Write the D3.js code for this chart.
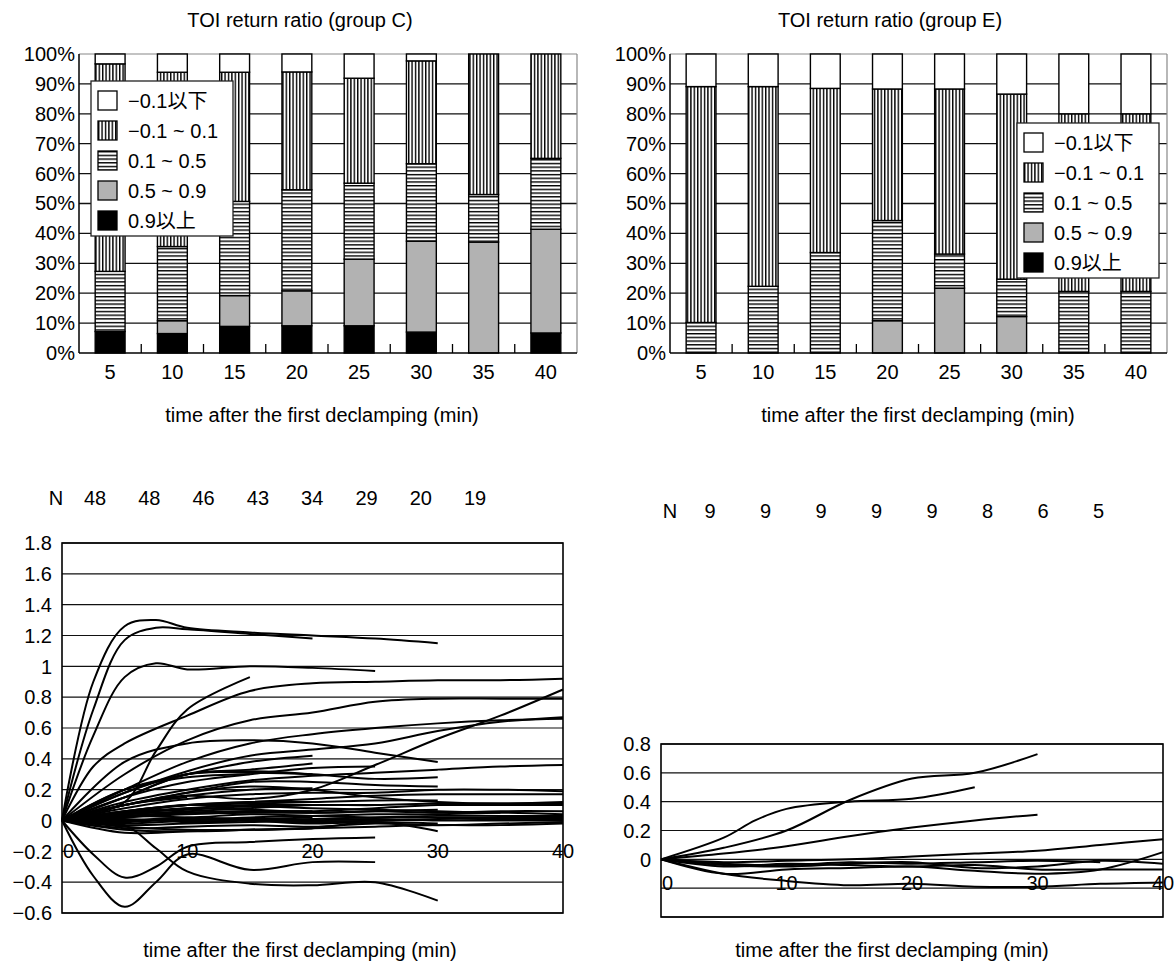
<!DOCTYPE html>
<html lang="en">
<head>
<meta charset="UTF-8" />
<title>TOI return ratio</title>
<style>
  body { margin: 0; background: #fff; }
  svg text { font-family: "Liberation Sans", Arial, "Noto Sans CJK JP", sans-serif; font-size: 20px; fill: #000; }
</style>
</head>
<body>
<script src="https://cdn.jsdelivr.net/npm/d3@7"></script>
<div id="app"></div>
<script>
// categories (min after declamping)
const times = ["5", "10", "15", "20", "25", "30", "35", "40"];
// stack keys, bottom to top
const keys = ["0.9以上", "0.5 ~ 0.9", "0.1 ~ 0.5", "\u22120.1 ~ 0.1", "\u22120.1以下"];
const legendKeys = ["\u22120.1以下", "\u22120.1 ~ 0.1", "0.1 ~ 0.5", "0.5 ~ 0.9", "0.9以上"];

// group C, percent of patients
const cBlack = [7.2, 6.5, 8.9, 9.1, 9.1, 7.0, 0, 6.7];
const cGray  = [0, 4.3, 10.3, 11.7, 22.3, 30.4, 37.1, 34.7];
const cHor   = [20.1, 24.8, 31.5, 33.8, 25.4, 25.9, 15.9, 23.7];
const cVer   = [69.4, 58.3, 43.2, 39.4, 35.1, 34.4, 47.0, 34.9];
const cWhite = [3.3, 6.1, 6.1, 6.0, 8.1, 2.3, 0, 0];

// group E, percent of patients
const eBlack = [0, 0, 0, 0, 0, 0, 0, 0];
const eGray  = [0, 0, 0, 10.8, 21.7, 12.2, 0, 0];
const eHor   = [10.2, 22.3, 33.6, 33.5, 11.4, 12.5, 20.6, 20.6];
const eVer   = [78.9, 66.8, 54.9, 44.0, 55.2, 61.9, 59.4, 59.4];
const eWhite = [10.9, 10.9, 11.5, 11.7, 11.7, 13.4, 20.0, 20.0];

// patient counts
const nC = [48, 48, 46, 43, 34, 29, 20, 19];
const nE = [9, 9, 9, 9, 9, 8, 6, 5];

const pctTicks = [0, 10, 20, 30, 40, 50, 60, 70, 80, 90, 100];
const xTicks = [0, 10, 20, 30, 40];
const yTicksC = [-0.6, -0.4, -0.2, 0, 0.2, 0.4, 0.6, 0.8, 1, 1.2, 1.4, 1.6, 1.8];
const yTicksE = [-0.4, -0.2, 0, 0.2, 0.4, 0.6, 0.8];
const yLabelsE = [0, 0.2, 0.4, 0.6, 0.8];

// individual return ratio curves, [min, value]
const linesC = [
  // followed to 40 min
  [[0,0],[2.5,0.35],[5,0.5],[10,0.68],[15,0.84],[20,0.89],[25,0.9],[30,0.91],[35,0.91],[40,0.92]],
  [[0,0],[5,0.3],[10,0.52],[15,0.65],[20,0.7],[25,0.77],[30,0.79],[35,0.79],[40,0.79]],
  [[0,0],[5,0.1],[10,0.16],[15,0.14],[20,0.2],[25,0.36],[30,0.53],[35,0.68],[40,0.85]],
  [[0,0],[5,0.18],[10,0.32],[15,0.42],[20,0.46],[25,0.5],[30,0.58],[35,0.64],[40,0.67]],
  [[0,0],[5,0.2],[10,0.38],[15,0.5],[20,0.56],[25,0.6],[30,0.63],[35,0.65],[40,0.66]],
  [[0,0],[5,0.12],[10,0.2],[15,0.26],[20,0.29],[25,0.31],[30,0.33],[35,0.35],[40,0.36]],
  [[0,0],[5,0.08],[10,0.14],[15,0.17],[20,0.18],[25,0.18],[30,0.2],[35,0.2],[40,0.19]],
  [[0,0],[5,0.06],[10,0.1],[15,0.12],[20,0.14],[25,0.16],[30,0.17],[35,0.17],[40,0.17]],
  [[0,0],[5,0.1],[10,0.18],[15,0.22],[20,0.2],[25,0.15],[30,0.12],[35,0.11],[40,0.12]],
  [[0,0],[5,0.04],[10,0.06],[15,0.08],[20,0.1],[25,0.1],[30,0.11],[35,0.11],[40,0.11]],
  [[0,0],[5,0.05],[10,0.08],[15,0.07],[20,0.06],[25,0.08],[30,0.1],[35,0.1],[40,0.1]],
  [[0,0],[5,0.02],[10,0.04],[15,0.05],[20,0.05],[25,0.06],[30,0.05],[35,0.06],[40,0.06]],
  [[0,0],[5,0.03],[10,0.02],[15,0.04],[20,0.03],[25,0.04],[30,0.04],[35,0.05],[40,0.04]],
  [[0,0],[5,-0.02],[10,0.0],[15,0.02],[20,0.03],[25,0.02],[30,0.03],[35,0.03],[40,0.03]],
  [[0,0],[5,0.01],[10,-0.01],[15,0.0],[20,0.01],[25,0.02],[30,0.02],[35,0.02],[40,0.02]],
  [[0,0],[5,-0.03],[10,-0.02],[15,-0.01],[20,0.0],[25,0.01],[30,0.0],[35,0.0],[40,0.0]],
  [[0,0],[5,-0.05],[10,-0.04],[15,-0.03],[20,-0.04],[25,-0.02],[30,-0.03],[35,-0.02],[40,-0.01]],
  [[0,0],[5,-0.06],[10,-0.07],[15,-0.06],[20,-0.05],[25,-0.04],[30,-0.03],[35,-0.03],[40,-0.02]],
  [[0,0],[5,0.0],[10,0.01],[15,0.0],[20,-0.01],[25,0.0],[30,0.01],[35,0.01],[40,0.01]],
  // to 35 min
  [[0,0],[5,0.05],[10,0.07],[15,0.09],[20,0.08],[25,0.07],[30,0.06],[35,0.05]],
  // to 30 min
  [[0,0],[2.5,0.9],[5,1.26],[7.5,1.3],[10,1.25],[15,1.22],[20,1.2],[25,1.18],[30,1.15]],
  [[0,0],[5,0.38],[10,0.5],[15,0.52],[20,0.5],[25,0.44],[30,0.38]],
  [[0,0],[5,0.1],[10,0.18],[15,0.25],[20,0.25],[25,0.23],[30,0.22]],
  [[0,0],[5,0.05],[10,0.1],[15,0.12],[20,0.12],[25,0.13],[30,0.13]],
  [[0,0],[5,0.03],[10,0.05],[15,0.06],[20,0.05],[25,0.06],[30,0.07]],
  [[0,0],[5,-0.01],[10,0.01],[15,0.0],[20,-0.02],[25,-0.01],[30,-0.02]],
  [[0,0],[5,-0.08],[10,-0.07],[15,-0.06],[20,-0.05],[25,-0.01],[30,-0.07]],
  [[0,0],[5,-0.03],[7.5,-0.18],[10,-0.33],[15,-0.41],[20,-0.42],[25,-0.4],[30,-0.52]],
  [[0,0],[5,0.15],[10,0.3],[15,0.31],[20,0.3],[25,0.27],[30,0.28]],
  // to 25 min
  [[0,0],[2.5,0.55],[5,0.93],[7.5,1.02],[10,0.98],[15,1.0],[20,0.99],[25,0.97]],
  [[0,0],[2.5,-0.36],[5,-0.56],[7.5,-0.4],[10,-0.22],[15,-0.32],[20,-0.27],[25,-0.27]],
  [[0,0],[2.5,-0.22],[5,-0.37],[7.5,-0.3],[10,-0.17],[15,-0.14],[20,-0.12],[25,-0.11]],
  [[0,0],[5,0.15],[10,0.25],[15,0.3],[20,0.34],[25,0.35]],
  [[0,0],[5,0.04],[10,0.08],[15,0.1],[20,0.1],[25,0.1]],
  // to 20 min
  [[0,0],[2.5,0.72],[5,1.17],[7.5,1.25],[10,1.24],[15,1.21],[20,1.18]],
  [[0,0],[5,0.2],[10,0.3],[15,0.38],[20,0.42]],
  [[0,0],[5,0.15],[10,0.3],[15,0.33],[20,0.37]],
  [[0,0],[5,0.18],[10,0.3],[15,0.32],[20,0.3]],
  [[0,0],[5,0.1],[10,0.16],[15,0.2],[20,0.21]],
  [[0,0],[5,0.06],[10,0.1],[15,0.11],[20,0.12]],
  [[0,0],[5,0.02],[10,0.05],[15,0.06],[20,0.06]],
  [[0,0],[5,0.0],[10,0.02],[15,0.01],[20,0.02]],
  [[0,0],[5,-0.04],[10,-0.06],[15,-0.06],[20,-0.05]],
  // to 15 min
  [[0,0],[5,0.12],[7.5,0.45],[10,0.72],[15,0.93]],
  [[0,0],[5,0.2],[10,0.28],[15,0.3]],
  [[0,0],[5,0.06],[10,0.1],[15,0.09]],
  // to 10 min
  [[0,0],[5,0.1],[10,0.15]],
  [[0,0],[5,0.03],[10,0.05]]
];

const linesE = [
  [[0,0],[5,0.15],[7.5,0.27],[10,0.35],[15,0.4],[20,0.42],[25,0.5]],
  [[0,0],[5,0.08],[10,0.2],[15,0.41],[20,0.56],[25,0.6],[30,0.73]],
  [[0,0],[5,0.04],[10,0.09],[15,0.16],[20,0.22],[25,0.27],[30,0.31]],
  [[0,0],[5,-0.03],[10,-0.04],[15,-0.02],[20,-0.03],[25,-0.02],[30,-0.01],[35,-0.02]],
  [[0,0],[5,-0.02],[10,-0.01],[15,0.0],[20,0.02],[25,0.04],[30,0.06],[35,0.1],[40,0.14]],
  [[0,0],[5,-0.1],[10,-0.15],[15,-0.18],[20,-0.17],[25,-0.19],[30,-0.19],[35,-0.17],[40,-0.16]],
  [[0,0],[5,-0.1],[10,-0.07],[15,-0.06],[20,-0.05],[25,-0.08],[30,-0.1],[35,-0.07],[40,0.05]],
  [[0,0],[5,-0.04],[10,-0.05],[15,-0.03],[20,-0.02],[25,-0.06],[30,-0.05],[35,-0.01],[40,-0.03]],
  [[0,0],[5,-0.05],[10,-0.03],[15,-0.04],[20,-0.05],[25,-0.04],[30,-0.07],[35,-0.07],[40,-0.07]]
];

const fills = {
  "0.9以上": "#000",
  "0.5 ~ 0.9": "#b2b2b2",
  "0.1 ~ 0.5": "url(#hor)",
  "\u22120.1 ~ 0.1": "url(#ver)",
  "\u22120.1以下": "#fff"
};

const svg = d3.select("#app").append("svg")
  .attr("width", 1176)
  .attr("height", 969);

// stripe patterns
const defs = svg.append("defs");
const pv = defs.append("pattern").attr("id", "ver")
  .attr("patternUnits", "userSpaceOnUse").attr("width", 3.4).attr("height", 10);
pv.append("rect").attr("width", 3.4).attr("height", 10).attr("fill", "#fff");
pv.append("rect").attr("x", 0).attr("width", 1.4).attr("height", 10).attr("fill", "#000");
const ph = defs.append("pattern").attr("id", "hor")
  .attr("patternUnits", "userSpaceOnUse").attr("width", 10).attr("height", 3.7);
ph.append("rect").attr("width", 10).attr("height", 3.7).attr("fill", "#fff");
ph.append("rect").attr("y", 0).attr("width", 10).attr("height", 1.4).attr("fill", "#000");

function barChart(left, right, top, bottom, cols, title, titleX, labelX, legX, legY) {
  const table = times.map((t, i) => {
    const row = { time: t };
    keys.forEach((k, j) => { row[k] = cols[j][i]; });
    return row;
  });
  const x = d3.scaleBand().domain(times).range([left, right])
    .paddingInner(0.52).paddingOuter(0.26);
  const y = d3.scaleLinear().domain([0, 100]).range([bottom, top]);
  const g = svg.append("g");

  // grid
  g.selectAll(".grid").data(pctTicks.slice(1, -1)).enter().append("line")
    .attr("x1", left).attr("x2", right)
    .attr("y1", d => y(d)).attr("y2", d => y(d))
    .attr("stroke", "#111").attr("stroke-width", 1.3);
  // frame
  g.append("line").attr("x1", left).attr("x2", right).attr("y1", top).attr("y2", top)
    .attr("stroke", "#888").attr("stroke-width", 1.2);
  g.append("line").attr("x1", right).attr("x2", right).attr("y1", top).attr("y2", bottom)
    .attr("stroke", "#888").attr("stroke-width", 1.2);

  // bars
  const series = d3.stack().keys(keys)(table);
  g.selectAll(".layer").data(series).enter().append("g")
    .attr("fill", d => fills[d.key])
    .selectAll("rect").data(d => d.filter(p => p[1] - p[0] > 0)).enter().append("rect")
    .attr("x", d => x(d.data.time))
    .attr("width", x.bandwidth())
    .attr("y", d => y(d[1]))
    .attr("height", d => y(d[0]) - y(d[1]))
    .attr("stroke", "#000").attr("stroke-width", 1.4);

  // axes
  g.append("line").attr("x1", left).attr("x2", left).attr("y1", top).attr("y2", bottom)
    .attr("stroke", "#000").attr("stroke-width", 1.5);
  g.append("line").attr("x1", left).attr("x2", right).attr("y1", bottom).attr("y2", bottom)
    .attr("stroke", "#000").attr("stroke-width", 1.5);
  g.selectAll(".tk").data(d3.range(1, times.length)).enter().append("line")
    .attr("x1", k => left + k * x.step()).attr("x2", k => left + k * x.step())
    .attr("y1", bottom).attr("y2", bottom - 9)
    .attr("stroke", "#000").attr("stroke-width", 1.3);

  const ya = d3.axisLeft(y).tickValues(pctTicks).tickFormat(d => d + "%").tickSize(0).tickPadding(4);
  g.append("g").attr("transform", `translate(${left},0)`).call(ya)
    .call(a => a.select(".domain").remove())
    .selectAll("text").attr("font-size", null).attr("font-family", null);
  const xa = d3.axisBottom(x).tickSize(0).tickPadding(12);
  g.append("g").attr("transform", `translate(0,${bottom})`).call(xa)
    .call(a => a.select(".domain").remove())
    .selectAll("text").attr("font-size", null).attr("font-family", null);

  svg.append("text").attr("x", titleX).attr("y", 27).attr("text-anchor", "middle").text(title);
  svg.append("text").attr("x", labelX).attr("y", 422).attr("text-anchor", "middle")
    .text("time after the first declamping (min)");

  // legend
  const lg = svg.append("g").attr("transform", `translate(${legX},${legY})`);
  lg.append("rect").attr("width", 142).attr("height", 155)
    .attr("fill", "#fff").attr("stroke", "#222").attr("stroke-width", 1.3);
  const item = lg.selectAll(".it").data(legendKeys).enter().append("g")
    .attr("transform", (d, i) => `translate(7,${10 + i * 30})`);
  item.append("rect").attr("width", 19).attr("height", 19)
    .attr("fill", d => fills[d]).attr("stroke", "#000").attr("stroke-width", 1.3);
  item.append("text").attr("x", 30).attr("y", 17).text(d => d);
}

function lineChart(left, right, top, bottom, yMin, yMax, grid, labels, lines, xLabY, counts, nX, nStep, nY) {
  const x = d3.scaleLinear().domain([0, 40]).range([left, right]);
  const y = d3.scaleLinear().domain([yMin, yMax]).range([bottom, top]);
  const g = svg.append("g");

  g.selectAll(".grid").data(grid).enter().append("line")
    .attr("x1", left).attr("x2", right)
    .attr("y1", d => y(d)).attr("y2", d => y(d))
    .attr("stroke", "#111").attr("stroke-width", 1.2);
  g.append("rect").attr("x", left).attr("y", top)
    .attr("width", right - left).attr("height", bottom - top)
    .attr("fill", "none").attr("stroke", "#000").attr("stroke-width", 1.6);

  g.selectAll(".yl").data(labels).enter().append("text")
    .attr("x", left - 10).attr("y", d => y(d)).attr("dy", "0.36em")
    .attr("text-anchor", "end")
    .text(d => d3.format("")(d).replace("-", "\u2212"));

  g.selectAll(".xl").data(xTicks).enter().append("text")
    .attr("x", d => d === 0 ? x(d) + 1 : x(d))
    .attr("y", xLabY)
    .attr("text-anchor", d => d === 0 ? "start" : "middle")
    .text(d => d);

  const line = d3.line().x(d => x(d[0])).y(d => y(d[1])).curve(d3.curveCatmullRom.alpha(0.5));
  g.selectAll(".ln").data(lines).enter().append("path")
    .attr("d", line)
    .attr("fill", "none").attr("stroke", "#000").attr("stroke-width", 2);

  svg.append("text").attr("x", nX - nStep * 0.72).attr("y", nY).attr("text-anchor", "middle").text("N");
  svg.selectAll(null).data(counts).enter().append("text")
    .attr("x", (d, i) => nX + i * nStep).attr("y", nY).attr("text-anchor", "middle").text(d => d);
}

barChart(79, 577, 54, 353, [cBlack, cGray, cHor, cVer, cWhite],
  "TOI return ratio (group C)", 300, 322, 91, 81);
barChart(670, 1167, 54, 353, [eBlack, eGray, eHor, eVer, eWhite],
  "TOI return ratio (group E)", 890, 918, 1017, 123);

lineChart(62, 563, 543, 913, -0.6, 1.8, yTicksC, yTicksC, linesC, 858, nC, 95, 54.3, 505);
lineChart(661, 1163, 744, 917, -0.4, 0.8, yTicksE, yLabelsE, linesE, 890, nE, 710, 55.5, 518);

svg.append("text").attr("x", 300).attr("y", 957).attr("text-anchor", "middle")
  .text("time after the first declamping (min)");
svg.append("text").attr("x", 892).attr("y", 957).attr("text-anchor", "middle")
  .text("time after the first declamping (min)");
</script>
</body>
</html>
